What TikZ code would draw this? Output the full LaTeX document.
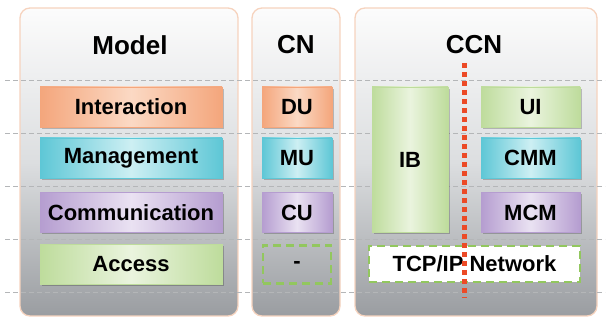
\documentclass[tikz,border=0pt]{standalone}
\usepackage{fontspec}
\setmainfont{Liberation Sans}
\usetikzlibrary{shadows}

\definecolor{paneledge}{HTML}{F6D3BE}
\definecolor{paneltop}{HTML}{FCFCFC}
\definecolor{panelmid}{HTML}{DCDEE0}
\definecolor{panelbot}{HTML}{9A9DA1}
\definecolor{rowline}{HTML}{B4B6B8}
\definecolor{orangeA}{HTML}{F4A67C}
\definecolor{orangeB}{HTML}{FBD9C4}
\definecolor{cyanA}{HTML}{5EC7D6}
\definecolor{cyanB}{HTML}{CDEFF3}
\definecolor{purpleA}{HTML}{B59DD0}
\definecolor{purpleB}{HTML}{EAE2F2}
\definecolor{greenA}{HTML}{BEDC9C}
\definecolor{greenB}{HTML}{EAF4DE}
\definecolor{greendash}{HTML}{92C75E}
\definecolor{splitred}{HTML}{EC4A26}

\tikzset{
  panel/.style={draw=paneledge, line width=1.3pt, rounded corners=10pt,
    top color=paneltop, bottom color=panelbot, middle color=panelmid},
  title/.style={font=\bfseries\fontsize{26}{28}\selectfont},
  layerbox/.style={inner sep=0pt, minimum height=40pt,
    font=\bfseries\fontsize{22}{24}\selectfont,
    drop shadow={shadow xshift=1.6pt, shadow yshift=-1.6pt, fill=black, opacity=0.22}},
  orangebox/.style={layerbox, draw=orangeA, line width=0.8pt,
    left color=orangeA, right color=orangeA, middle color=orangeB},
  cyanbox/.style={layerbox, draw=cyanA, line width=0.8pt,
    left color=cyanA, right color=cyanA, middle color=cyanB},
  purplebox/.style={layerbox, draw=purpleA, line width=0.8pt,
    left color=purpleA, right color=purpleA, middle color=purpleB},
  greenbox/.style={layerbox, draw=greenA, line width=0.8pt,
    left color=greenA, right color=greenA, middle color=greenB},
  emptybox/.style={inner sep=0pt, minimum height=38pt,
    font=\bfseries\fontsize{22}{24}\selectfont,
    draw=greendash, line width=2.5pt, dash pattern=on 8pt off 5pt},
  rowsep/.style={draw=rowline, line width=0.7pt, dash pattern=on 5pt off 3pt},
  splitline/.style={draw=splitred, line width=5pt, dash pattern=on 5pt off 4pt}
}

\begin{document}
\begin{tikzpicture}[x=1pt,y=-1pt]
  \useasboundingbox (0,0) rectangle (608,320);

  % three column panels
  \path[panel] (20,8) rectangle (238,316);
  \path[panel] (252,8) rectangle (340,316);
  \path[panel] (355,8) rectangle (597,316);

  % layer separators
  \foreach \yy in {80,133,186,239,292}
    \draw[rowsep] (5,\yy) -- (605,\yy);

  % column titles
  \node[title] (tmodel) at (130,45) {Model};
  \node[title] (tcn) at (296,45) {CN};
  \node[title] (tccn) at (474,45) {CCN};

  % Model column
  \node[orangebox, minimum width=182pt] (interaction) at (131,107) {Interaction};
  \node[cyanbox, minimum width=182pt] (management) at (131,158) {Management};
  \node[purplebox, minimum width=182pt] (communication) at (131,212.5) {Communication};
  \node[greenbox, minimum width=182pt] (access) at (131,264.5) {Access};

  % CN column
  \node[orangebox, minimum width=70pt] (du) at (297,107) {DU};
  \node[cyanbox, minimum width=70pt] (mu) at (297,158) {MU};
  \node[purplebox, minimum width=70pt] (cu) at (297,212.5) {CU};
  \node[emptybox, minimum width=68pt] (none) at (297,264.5) {-};

  % CCN column
  \node[greenbox, minimum width=76pt, minimum height=145pt] (ib) at (410,159.5) {IB};
  \node[greenbox, minimum width=99pt] (ui) at (530.5,107) {UI};
  \node[cyanbox, minimum width=99pt] (cmm) at (530.5,158) {CMM};
  \node[purplebox, minimum width=99pt] (mcm) at (530.5,212.5) {MCM};
  \node[emptybox, fill=white, minimum width=211pt, minimum height=36pt] (tcpip) at (474.5,264) {TCP/IP Network};

  % split between the two CCN halves
  \coordinate (splittop) at (464,63);
  \coordinate (splitbot) at (464,298);
  \draw[splitline] (splittop) -- (splitbot);
\end{tikzpicture}
\end{document}
